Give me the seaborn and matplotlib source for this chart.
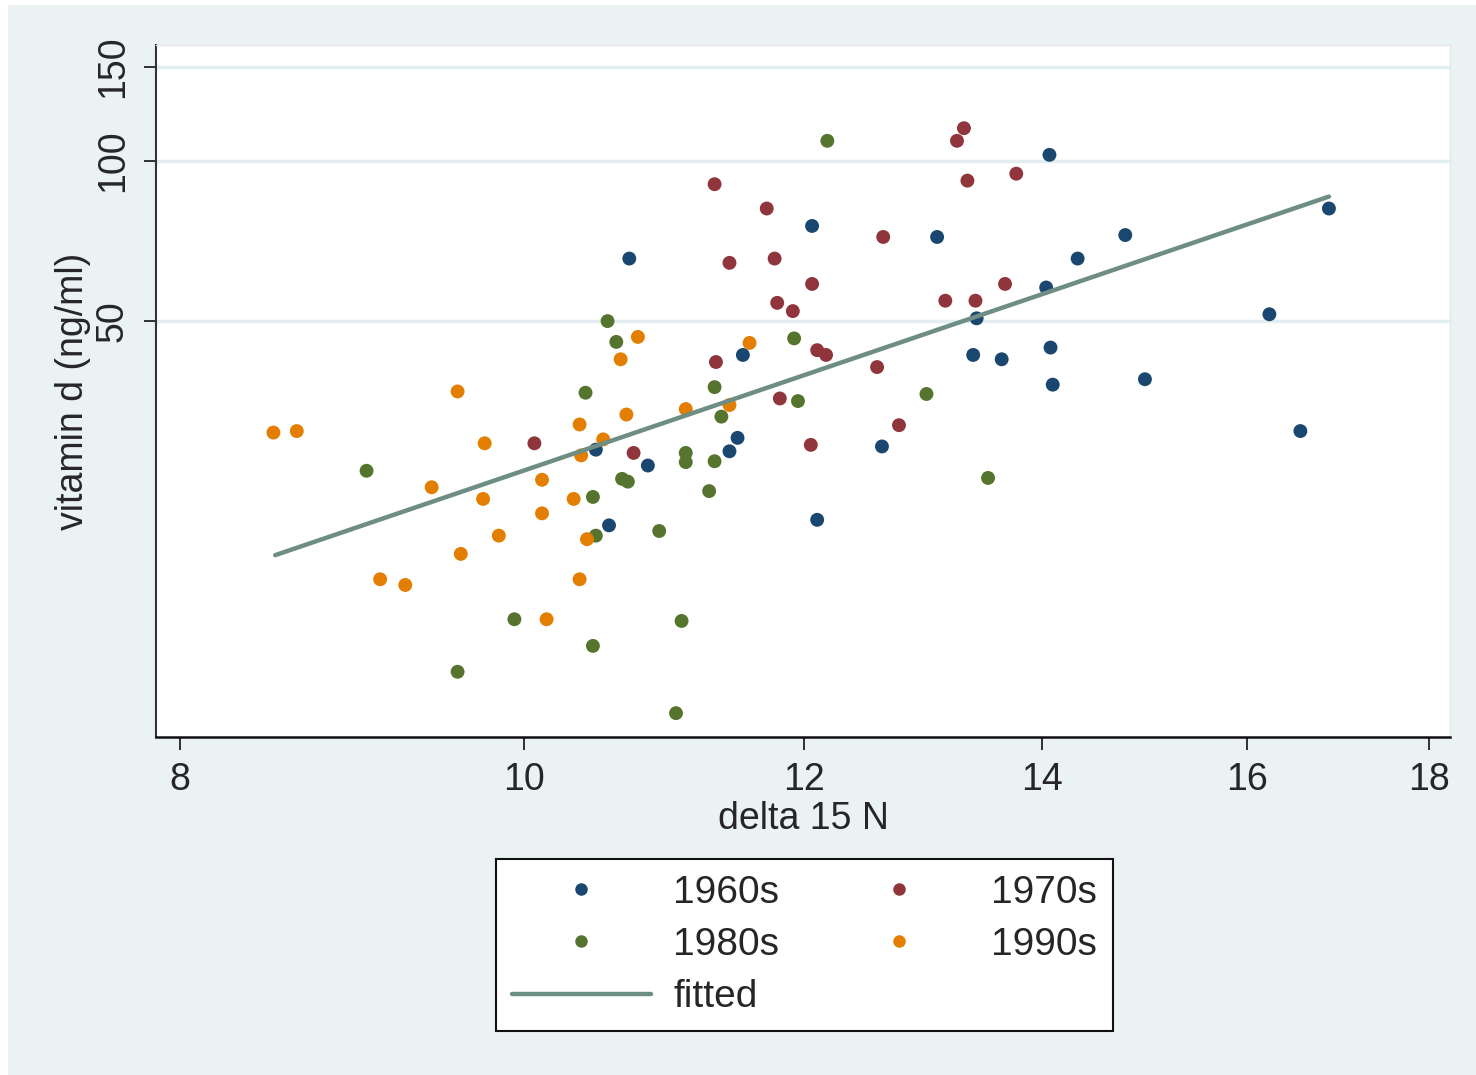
import numpy as np
import pandas as pd
import seaborn as sns
import matplotlib.pyplot as plt
from matplotlib.patches import Rectangle

# delta 15 N and vitamin d, one pair of lists per decade
d15n_1960s = [10.71, 12.06, 13.08, 14.07, 16.87, 14.78, 14.33, 14.04, 13.42, 16.23, 11.53, 13.39,
              13.64, 14.08, 14.10, 14.97, 16.56, 10.48, 10.57, 10.84, 11.49, 11.43, 12.62, 12.10]
vitd_1960s = [65.5, 75.4, 71.9, 102.5, 81.3, 72.5, 65.5, 57.8, 50.6, 51.5, 43.2, 43.2,
              42.4, 44.6, 38.0, 38.9, 31.1, 28.7, 20.7, 26.8, 30.2, 28.5, 29.1, 21.2]

d15n_1970s = [13.31, 13.25, 11.32, 13.34, 13.77, 11.71, 12.63, 11.43, 11.77, 12.06, 11.79, 11.91,
              13.15, 13.41, 13.67, 11.33, 12.10, 12.17, 12.58, 11.81, 12.05, 12.76, 10.74, 10.07]
vitd_1970s = [115.0, 108.9, 90.3, 91.7, 94.5, 81.3, 71.9, 64.3, 65.5, 58.7, 54.1, 52.2,
              54.6, 54.6, 58.7, 41.9, 44.1, 43.2, 41.0, 35.8, 29.3, 31.9, 28.3, 29.5]

d15n_1980s = [12.18, 10.56, 10.62, 11.92, 10.41, 11.32, 12.99, 11.95, 11.37, 11.11, 11.11, 11.32, 9.03,
              10.46, 10.66, 10.70, 11.28, 13.52, 10.48, 10.92, 9.94, 11.08, 10.46, 9.58, 11.04]
vitd_1980s = [108.9, 50.0, 45.7, 46.4, 36.7, 37.6, 36.5, 35.4, 33.1, 28.3, 27.2, 27.3, 26.2,
              23.4, 25.3, 25.0, 24.0, 25.4, 19.8, 20.2, 13.8, 13.7, 12.3, 11.0, 9.2]

d15n_1990s = [10.77, 10.65, 11.58, 9.58, 10.69, 11.11, 11.43, 8.50, 8.63, 10.37, 9.75, 10.53, 10.38,
              9.42, 10.12, 9.74, 10.33, 10.12, 9.84, 10.42, 9.60, 9.11, 9.26, 10.37, 10.15]
vitd_1990s = [46.7, 42.4, 45.5, 36.9, 33.4, 34.2, 34.8, 30.9, 31.1, 32.0, 29.5, 30.0, 28.0,
              24.4, 25.2, 23.2, 23.2, 21.8, 19.8, 19.5, 18.3, 16.4, 16.0, 16.4, 13.8]

# fitted line (log-log), end points
fit_d15n = [8.51, 16.87]
fit_vitd = [18.2, 85.6]

decades = ['1960s', '1970s', '1980s', '1990s']
x_ticks = [8, 10, 12, 14, 16, 18]
y_ticks = [50, 100, 150]

colors = ['#1a476f', '#90353b', '#55752f', '#e37e00']
fit_color = '#6e8e84'
bg = '#eaf2f3'

frames = []
for dec, xs, ys in zip(decades,
                       [d15n_1960s, d15n_1970s, d15n_1980s, d15n_1990s],
                       [vitd_1960s, vitd_1970s, vitd_1980s, vitd_1990s]):
    frames.append(pd.DataFrame({'delta 15 N': xs, 'vitamin d': ys, 'decade': dec}))
df = pd.concat(frames, ignore_index=True)
fit_df = pd.DataFrame({'delta 15 N': fit_d15n, 'vitamin d': fit_vitd})

sns.set_style('white')
plt.rcParams['font.family'] = ['Liberation Sans', 'DejaVu Sans']

W, H = 1476, 1075
fig = plt.figure(figsize=(W / 100, H / 100), dpi=100)
fig.patch.set_facecolor('white')
fig.patches.append(Rectangle((8 / W, 0), 1 - 8 / W, 1 - 5 / H, transform=fig.transFigure,
                             facecolor=bg, edgecolor='none', zorder=-10))

ax = fig.add_axes([156 / W, 1 - 737 / H, (1450 - 156) / W, (737 - 45) / H])
ax.set_facecolor('white')

sns.scatterplot(data=df, x='delta 15 N', y='vitamin d', hue='decade', hue_order=decades,
                palette=colors, s=100, linewidth=0, ax=ax, zorder=3)
sns.lineplot(data=fit_df, x='delta 15 N', y='vitamin d', color=fit_color, lw=3.2,
             label='fitted', ax=ax, zorder=4)

ax.set_xscale('log')
ax.set_yscale('log')
ax.set_xlim(7.876, 18.25)
ax.set_ylim(8.3, 164.7)
ax.minorticks_off()
ax.set_xticks(x_ticks)
ax.set_xticklabels([str(t) for t in x_ticks], fontsize=27)
ax.set_yticks(y_ticks)
ax.set_yticklabels([str(t) for t in y_ticks], fontsize=27, rotation=90, va='center')
ax.minorticks_off()

for t in y_ticks:
    ax.axhline(t, color='#e3eef0', lw=2.5, zorder=1)

ax.tick_params(axis='both', direction='out', length=9, width=1.3, color='#222222',
               bottom=True, left=True)
ax.tick_params(axis='x', pad=9)
ax.tick_params(axis='y', pad=9)

for side in ['top', 'right']:
    ax.spines[side].set_color('#e6e6e6')
    ax.spines[side].set_linewidth(1)
ax.spines['left'].set_color('#333333')
ax.spines['left'].set_linewidth(1.5)
ax.spines['bottom'].set_color('#111111')
ax.spines['bottom'].set_linewidth(1.8)

ax.set_xlabel('delta 15 N', fontsize=27, labelpad=2)
ax.set_ylabel('vitamin d (ng/ml)', fontsize=27, labelpad=3)

handles, labels = ax.get_legend_handles_labels()
lookup = dict(zip(labels, handles))
order = ['1960s', '1980s', 'fitted', '1970s', '1990s']
ax.get_legend().remove()
leg = fig.legend([lookup[k] for k in order], order, loc='center', ncol=2,
                 bbox_to_anchor=(804.5 / W, 1 - 945 / H), bbox_transform=fig.transFigure,
                 fontsize=28, frameon=True, fancybox=False, framealpha=1,
                 edgecolor='#111111', handlelength=3.57, handletextpad=0.59,
                 columnspacing=1.29, labelspacing=0.42, markerscale=0.9,
                 borderpad=0.40)
leg.get_frame().set_linewidth(1.5)

fig.savefig('out.png', dpi=100, facecolor=fig.get_facecolor())
